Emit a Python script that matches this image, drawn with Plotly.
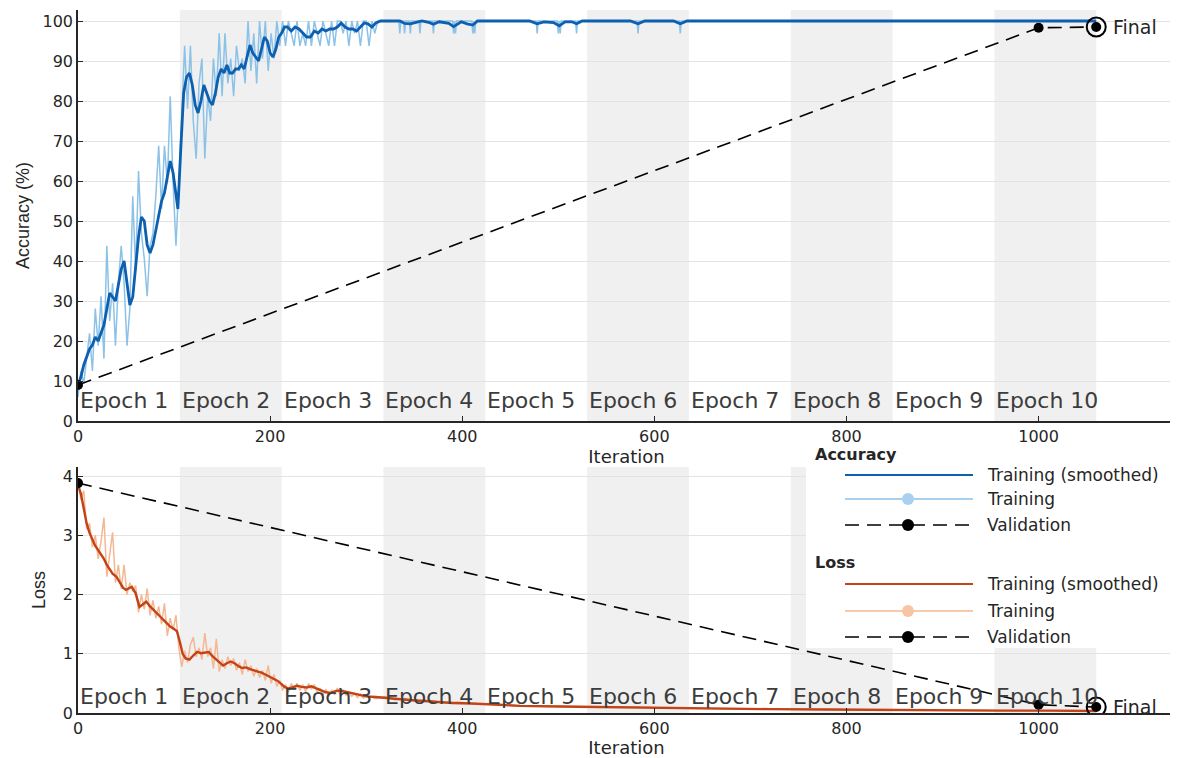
import plotly.graph_objects as go

# ---------------- data ----------------
epoch_edges = [0, 106, 212, 318, 424, 530, 636, 742, 848, 954, 1060]
epoch_labels = ["Epoch 1", "Epoch 2", "Epoch 3", "Epoch 4", "Epoch 5",
                "Epoch 6", "Epoch 7", "Epoch 8", "Epoch 9", "Epoch 10"]

# smoothed training accuracy (%)
acc_smooth_iter = [0, 3, 6, 9, 12, 15, 18, 21, 24, 27, 30, 33, 36, 39, 42, 45, 48, 51, 54, 57,
                   60, 63, 66, 69, 72, 75, 78, 81, 84, 87, 90, 93, 96, 99, 102, 104, 107, 110,
                   113, 116, 119, 122, 125, 128, 131, 134, 137, 140, 143, 146, 149, 152, 155,
                   158, 161, 164, 167, 170, 173, 176, 179, 182, 185, 188, 191, 194, 197, 200,
                   203, 206, 209, 212, 215, 218, 222, 226, 230, 234, 238, 242, 246, 250, 254,
                   258, 262, 266, 270, 274, 278, 282, 286, 290, 294, 298, 302, 306, 310, 315,
                   335, 340, 346, 352, 358, 366, 370, 376, 386, 391, 394, 399, 405, 411, 416,
                   470, 478, 485, 495, 501, 507, 514, 519, 525, 575, 583, 590, 620, 627, 634, 1060]
acc_smooth_val = [9, 11, 14, 16, 18, 19, 21, 20, 22, 24, 28, 32, 31, 30, 34, 38, 40, 35, 29, 31,
                  38, 46, 51, 50, 44, 42, 44, 48, 51, 55, 57, 61, 65, 62, 56, 53, 68, 82,
                  86, 87, 84, 79, 77, 80, 84, 82, 80, 79, 82, 86, 88, 87, 89,
                  87, 87, 88, 88, 89, 88, 91, 94, 92, 91, 90, 93, 96, 95, 92,
                  91, 93, 96, 97, 98.5, 98.5, 97.5, 98.5, 98, 97, 96, 96, 97.5, 97, 98,
                  97.5, 98, 98, 98.5, 99.5, 98.5, 98, 98, 97.5, 98.5, 99.5, 99.3, 98.5, 99.5, 100,
                  100, 99.4, 99.3, 99.6, 100, 99.6, 99.2, 99.8, 99.4, 98.6, 99.0, 99.8, 99.3, 99.0, 100,
                  100, 99.3, 99.8, 99.6, 98.8, 99.8, 99.8, 99.3, 100, 100, 99.3, 100, 100, 99.3, 100, 100]

# raw training accuracy (%)
acc_raw_iter = list(range(0, 318, 3)) + [
    320, 334, 335, 336, 339, 340, 341, 345, 346, 347, 355, 356, 357, 369, 370, 371,
    390, 391, 392, 393, 394, 410, 411, 412, 413, 414, 477, 478, 479, 499, 500, 501,
    502, 503, 518, 519, 520, 582, 583, 584, 626, 627, 628, 1060]
acc_raw_val = [
    6, 12.5, 9.4, 15.6, 21.9, 12.5, 28.1, 18.8, 31.2, 15.6, 43.8, 25, 34.4, 18.8, 34.4, 43.8,
    34.4, 18.8, 28.1, 56.2, 37.5, 62.5, 46.9, 40.6, 31.2, 43.8, 46.9, 56.2, 68.8, 53.1, 68.8,
    59.4, 81.2, 59.4, 43.8, 59.4, 75, 93.8, 78.1, 93.8, 75, 65.6, 84.4, 90.6, 65.6, 81.2, 75,
    90.6, 81.2, 96.9, 81.2, 96.9, 84.4, 90.6, 81.2, 93.8, 87.5, 90.6, 84.4, 100, 87.5, 96.9,
    84.4, 100, 90.6, 100, 87.5, 96.9, 90.6, 100, 93.8, 100, 93.8, 100, 96.9, 93.8, 100, 93.8,
    96.9, 93.8, 100, 93.8, 100, 96.9, 93.8, 100, 96.9, 93.8, 100, 93.8, 100, 100, 96.9, 100,
    93.8, 100, 96.9, 100, 93.8, 100, 100, 93.8, 100, 96.9, 100, 100,
    100, 100, 96.9, 100, 100, 96.9, 100, 100, 96.9, 100, 100, 96.9, 100, 100, 96.9, 100,
    100, 96.9, 100, 96.9, 100, 100, 96.9, 100, 96.9, 100, 100, 96.9, 100, 100, 96.9, 100,
    96.9, 100, 100, 96.9, 100, 100, 96.9, 100, 100, 96.9, 100, 100]

# smoothed training loss
loss_smooth_iter = [0, 3, 6, 9, 12, 15, 18, 21, 24, 27, 30, 33, 36, 40, 44, 47, 50, 53, 56, 60,
                    64, 68, 71, 75, 79, 82, 86, 89, 92, 96, 100, 103, 106, 109, 112, 116, 120,
                    124, 128, 132, 136, 140, 144, 148, 151, 155, 159, 163, 167, 171, 175, 179,
                    183, 187, 191, 195, 199, 203, 207, 211, 215, 219, 223, 228, 233, 238, 243,
                    248, 253, 258, 263, 268, 273, 278, 285, 292, 300, 310, 320, 330, 345, 360,
                    375, 390, 410, 430, 460, 500, 540, 580, 620, 670, 720, 780, 840, 900, 960,
                    1010, 1060]
loss_smooth_val = [3.85, 3.7, 3.45, 3.2, 3.04, 2.92, 2.82, 2.75, 2.68, 2.6, 2.5, 2.42, 2.35, 2.3,
                   2.2, 2.11, 2.08, 2.1, 2.13, 2.02, 1.79, 1.84, 1.88, 1.8, 1.74, 1.69, 1.62,
                   1.57, 1.52, 1.46, 1.42, 1.38, 1.2, 1.0, 0.92, 0.9, 0.97, 1.03, 1.01, 1.02,
                   1.03, 0.96, 0.9, 0.84, 0.8, 0.84, 0.87, 0.84, 0.79, 0.76, 0.77, 0.74, 0.72,
                   0.71, 0.68, 0.65, 0.62, 0.59, 0.55, 0.5, 0.44, 0.41, 0.43, 0.46, 0.44, 0.43,
                   0.45, 0.42, 0.38, 0.35, 0.34, 0.37, 0.38, 0.36, 0.33, 0.3, 0.28, 0.27, 0.25,
                   0.24, 0.22, 0.2, 0.19, 0.17, 0.16, 0.14, 0.12, 0.11, 0.1, 0.09, 0.08, 0.07,
                   0.065, 0.06, 0.05, 0.045, 0.04, 0.04, 0.035]

# raw training loss
loss_raw_iter = list(range(0, 301, 3)) + [
    310, 320, 330, 340, 350, 365, 380, 395, 410, 430, 460, 500, 540, 580, 620, 680,
    740, 800, 860, 920, 980, 1060]
loss_raw_val = [
    3.9, 3.6, 3.75, 3.1, 3.2, 2.8, 3.0, 2.6, 2.9, 3.3, 2.3, 2.7, 3.05, 2.2, 2.5, 2.1, 2.5,
    2.0, 2.2, 2.05, 2.15, 1.7, 2.0, 1.75, 2.1, 1.65, 1.9, 1.6, 1.8, 1.5, 1.85, 1.3, 1.6, 1.4,
    1.65, 1.1, 0.78, 1.05, 0.85, 1.15, 1.28, 0.95, 1.1, 0.9, 1.35, 0.95, 1.1, 0.75, 1.25,
    0.7, 0.9, 0.75, 0.95, 0.8, 0.92, 0.72, 0.85, 0.65, 0.9, 0.7, 0.8, 0.62, 0.75, 0.6, 0.72,
    0.55, 0.8, 0.5, 0.65, 0.45, 0.55, 0.38, 0.48, 0.35, 0.5, 0.4, 0.5, 0.38, 0.48, 0.36, 0.5,
    0.4, 0.48, 0.35, 0.42, 0.3, 0.4, 0.28, 0.38, 0.32, 0.42, 0.3, 0.38, 0.3, 0.35, 0.28,
    0.33, 0.26, 0.32, 0.25, 0.3,
    0.24, 0.28, 0.22, 0.25, 0.2, 0.22, 0.17, 0.19, 0.15, 0.16, 0.12, 0.12, 0.1, 0.1, 0.08,
    0.07, 0.06, 0.06, 0.05, 0.045, 0.04, 0.035]

# validation
val_iter = [0, 1000, 1060]
val_acc = [9.0, 98.3, 98.5]
val_loss = [3.88, 0.14, 0.10]

x_ticks = [0, 200, 400, 600, 800, 1000]
acc_ticks = [0, 10, 20, 30, 40, 50, 60, 70, 80, 90, 100]
loss_ticks = [0, 1, 2, 3, 4]

# ---------------- style ----------------
C_ACC = "#0d5fb0"
C_ACC_RAW = "#8cc2e8"
C_LOSS = "#c24315"
C_LOSS_RAW = "#f5b792"
C_BAND = "#f0f0f0"
C_AX = "#262626"
TICKFONT = dict(family="DejaVu Sans", size=16, color=C_AX)
DASH = "14px,8px"

fig = go.Figure()

# accuracy traces
fig.add_trace(go.Scatter(x=acc_raw_iter, y=acc_raw_val, mode="lines",
                         line=dict(color=C_ACC_RAW, width=1.5), xaxis="x", yaxis="y",
                         showlegend=False))
fig.add_trace(go.Scatter(x=acc_smooth_iter, y=acc_smooth_val, mode="lines",
                         line=dict(color=C_ACC, width=2.8),
                         xaxis="x", yaxis="y", showlegend=False))
fig.add_trace(go.Scatter(x=val_iter, y=val_acc, mode="lines+markers",
                         line=dict(color="black", width=1.6, dash=DASH),
                         marker=dict(color="black", size=10), xaxis="x", yaxis="y",
                         showlegend=False))
fig.add_trace(go.Scatter(x=val_iter[-1:], y=val_acc[-1:], mode="markers",
                         marker=dict(color="rgba(0,0,0,0)", size=19,
                                     line=dict(color="black", width=2)),
                         xaxis="x", yaxis="y", showlegend=False))

# loss traces
fig.add_trace(go.Scatter(x=loss_raw_iter, y=loss_raw_val, mode="lines",
                         line=dict(color=C_LOSS_RAW, width=1.5), xaxis="x2", yaxis="y2",
                         showlegend=False))
fig.add_trace(go.Scatter(x=loss_smooth_iter, y=loss_smooth_val, mode="lines",
                         line=dict(color=C_LOSS, width=2.4),
                         xaxis="x2", yaxis="y2", showlegend=False))
fig.add_trace(go.Scatter(x=val_iter, y=val_loss, mode="lines+markers",
                         line=dict(color="black", width=1.6, dash=DASH),
                         marker=dict(color="black", size=10), xaxis="x2", yaxis="y2",
                         showlegend=False))
fig.add_trace(go.Scatter(x=val_iter[-1:], y=val_loss[-1:], mode="markers",
                         marker=dict(color="rgba(0,0,0,0)", size=19,
                                     line=dict(color="black", width=2)),
                         xaxis="x2", yaxis="y2", showlegend=False))

shapes = []
annotations = []

# epoch bands and labels
for k in range(len(epoch_labels)):
    for xr, yr, ylab in (("x", "y domain", 0.05), ("x2", "y2 domain", 0.066)):
        if k % 2 == 1:
            shapes.append(dict(type="rect", xref=xr, yref=yr, x0=epoch_edges[k],
                               x1=epoch_edges[k + 1], y0=0, y1=1, fillcolor=C_BAND,
                               line=dict(width=0), layer="below"))
        annotations.append(dict(text=epoch_labels[k], x=epoch_edges[k], y=ylab, xref=xr,
                                yref=yr, xanchor="left", yanchor="middle", showarrow=False,
                                xshift=0, font=dict(family="DejaVu Sans", size=22,
                                                    color="#3c3c3c")))

# Final labels
for xr, yr, vals in (("x", "y", val_acc), ("x2", "y2", val_loss)):
    annotations.append(dict(text="Final", x=val_iter[-1], y=vals[-1], xref=xr, yref=yr,
                            xanchor="left", yanchor="middle", xshift=15, showarrow=False,
                            font=dict(family="DejaVu Sans", size=19, color=C_AX)))

# ---------------- manual legend (paper coords) ----------------
def py(p):
    return (713 - p) / 703.0

def px(p):
    return (p - 78) / 1097.0

shapes.append(dict(type="rect", xref="paper", yref="paper", x0=px(806), x1=px(1180),
                   y0=py(648), y1=py(446), fillcolor="white", line=dict(width=0),
                   layer="above"))
legend_rows = [
    ("title", "Accuracy", 454, None),
    ("smooth", "Training (smoothed)", 475, C_ACC),
    ("raw", "Training", 499, C_ACC_RAW),
    ("val", "Validation", 525, "black"),
    ("title", "Loss", 562, None),
    ("smooth", "Training (smoothed)", 584, C_LOSS),
    ("raw", "Training", 611, C_LOSS_RAW),
    ("val", "Validation", 637, "black"),
]
for kind, label, ypix, col in legend_rows:
    if kind == "title":
        annotations.append(dict(text="<b>" + label + "</b>", x=px(813), y=py(ypix),
                                xref="paper", yref="paper", xanchor="left",
                                yanchor="middle", showarrow=False,
                                font=dict(family="DejaVu Sans", size=16, color=C_AX)))
        continue
    lw = {"smooth": 2.2, "raw": 1.3, "val": 1.6}[kind]
    line = dict(color=col, width=lw)
    if kind == "val":
        line["dash"] = DASH
    shapes.append(dict(type="line", xref="paper", yref="paper", x0=px(845), x1=px(973),
                       y0=py(ypix), y1=py(ypix), line=line, layer="above"))
    if kind in ("raw", "val"):
        mc = {"raw": "#a9d1ef" if col == C_ACC_RAW else "#f7c4a6", "val": "black"}[kind]
        shapes.append(dict(type="circle", xref="paper", yref="paper", xsizemode="pixel",
                           ysizemode="pixel", xanchor=px(908), yanchor=py(ypix),
                           x0=-6, x1=6, y0=-6, y1=6, fillcolor=mc,
                           line=dict(width=0), layer="above"))
    annotations.append(dict(text=label, x=px(985), y=py(ypix), xref="paper", yref="paper",
                            xanchor="left", yanchor="middle", showarrow=False,
                            font=dict(family="DejaVu Sans", size=17, color=C_AX)))

axis_common = dict(showline=True, linecolor=C_AX, linewidth=1.5, ticks="inside",
                   ticklen=5, tickcolor=C_AX, tickfont=TICKFONT, zeroline=False,
                   automargin=False)

# the page body has an 8px margin, so the figure is sized/offset to compensate
fig.update_layout(
    width=1170, height=750,
    margin=dict(l=70, r=3, t=2, b=45),
    paper_bgcolor="white", plot_bgcolor="white",
    showlegend=False,
    xaxis=dict(domain=[0, 1], range=[0, 1142], anchor="y", tickvals=x_ticks,
               showgrid=False,
               title=dict(text="Iteration", standoff=3,
                          font=dict(family="DejaVu Sans", size=18, color=C_AX)),
               **axis_common),
    yaxis=dict(domain=[292 / 703, 1], range=[0, 102.75], anchor="x", tickvals=acc_ticks,
               showgrid=True, gridcolor="#e3e3e3", gridwidth=1,
               title=dict(text="Accuracy (%)", standoff=8,
                          font=dict(family="Liberation Sans", size=18, color=C_AX)),
               **axis_common),
    xaxis2=dict(domain=[0, 1], range=[0, 1142], anchor="y2", tickvals=x_ticks,
                showgrid=False,
                title=dict(text="Iteration", standoff=3,
                           font=dict(family="DejaVu Sans", size=18, color=C_AX)),
                **axis_common),
    yaxis2=dict(domain=[0, 246 / 703], range=[0, 4.152], anchor="x2", tickvals=loss_ticks,
                showgrid=True, gridcolor="#e3e3e3", gridwidth=1,
                title=dict(text="Loss", standoff=13,
                           font=dict(family="Liberation Sans", size=18, color=C_AX)),
                **axis_common),
    shapes=shapes,
    annotations=annotations,
)

fig.write_html("out.html")
